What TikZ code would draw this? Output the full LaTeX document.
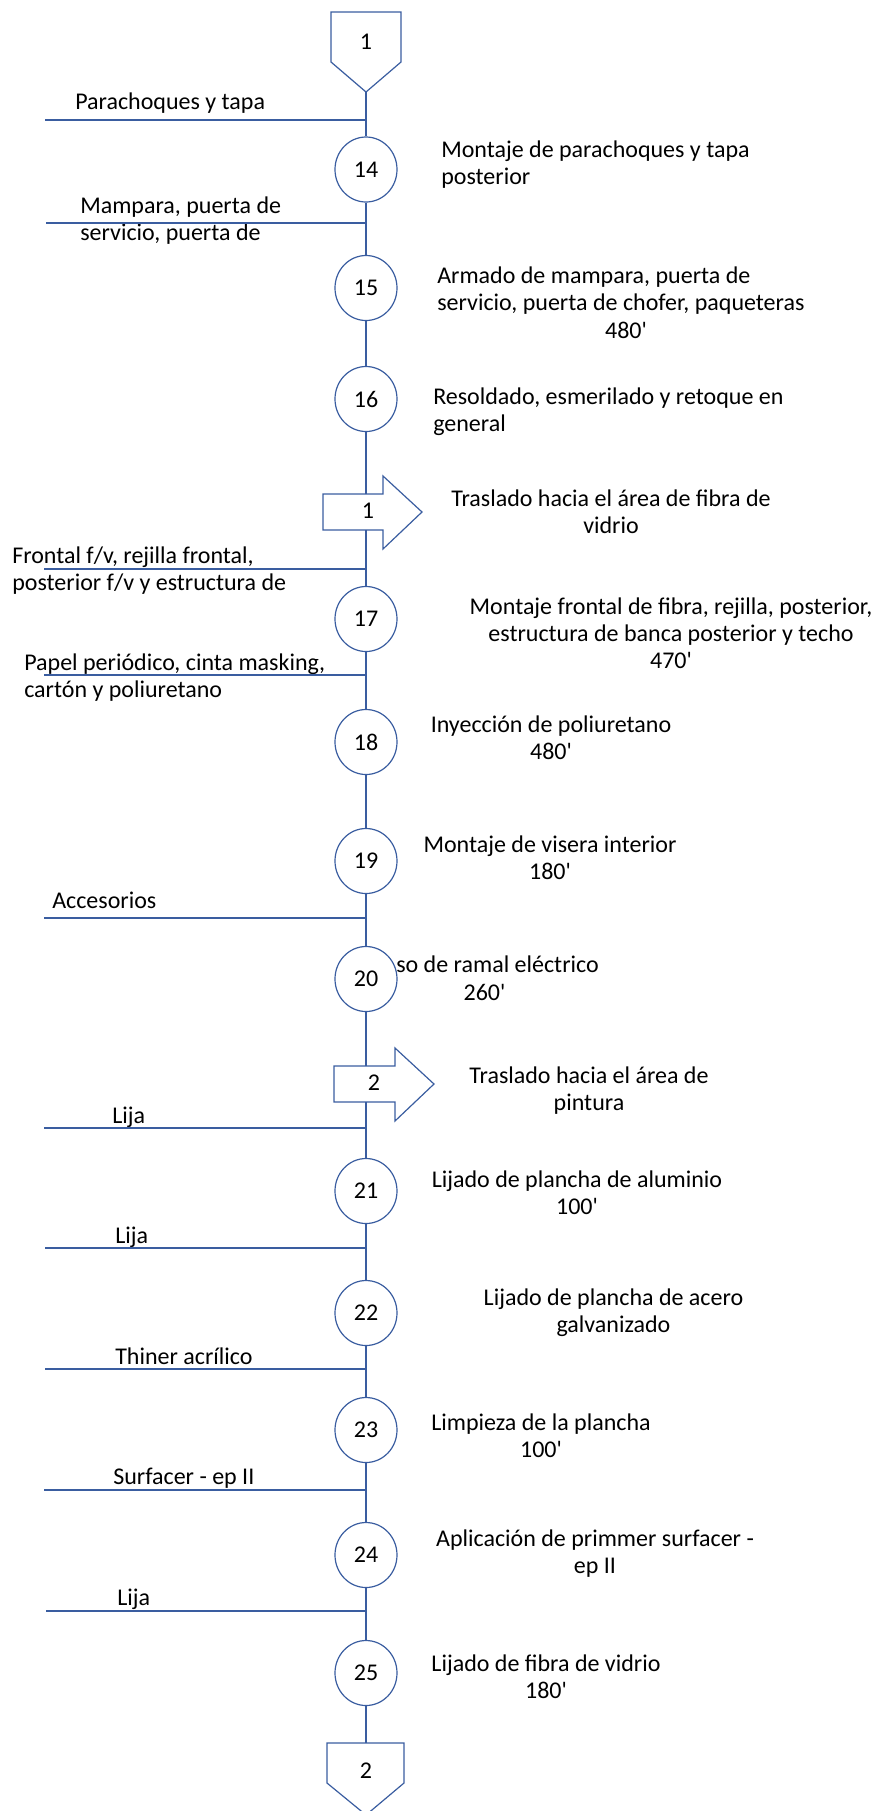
\documentclass[tikz,border=0pt]{standalone}
\usepackage{fontspec}
\setmainfont{Carlito}[Ligatures=TeXOff]
\usepackage{tikz}
\usetikzlibrary{shapes.geometric}
\definecolor{flowblue}{HTML}{3A5DA0}

\begin{document}
\begin{tikzpicture}[
  x=0.75pt, y=-0.75pt,
  font=\fontsize{18}{20.25}\selectfont,
  every node/.style={inner sep=0pt},
  oper/.style={draw=flowblue,line width=0.9pt,fill=white,ellipse,minimum width=46.5pt,minimum height=48.75pt},
  link/.style={draw=flowblue,line width=0.9pt},
  symb/.style={draw=flowblue,line width=0.9pt,fill=white,line join=miter},
  desc/.style={align=center},
  descl/.style={align=left,anchor=west},
  mat/.style={anchor=base west},
  matl/.style={align=left,anchor=west}
]
\useasboundingbox (0,0) rectangle (877,1811);
\draw[symb] (331,12) -- (401,12) -- (401,62) -- (366,92) -- (331,62) -- cycle;
\node (k1) at (366,42) {1};
\coordinate (k1tip) at (366,92);
\draw[symb] (327,1743) -- (404,1743) -- (404,1783) -- (366,1815) -- (327,1783) -- cycle;
\node (k2) at (366,1771) {2};
\coordinate (k2top) at (366,1743);
\draw[symb] (323,494) -- (383,494) -- (383,476) -- (422,512) -- (383,549) -- (383,530) -- (323,530) -- cycle;
\node (tr1) at (368,511) {1};
\coordinate (tr1n) at (366,494);
\coordinate (tr1s) at (366,530);
\draw[symb] (334,1066) -- (395,1066) -- (395,1048) -- (434,1084) -- (395,1121) -- (395,1102) -- (334,1102) -- cycle;
\node (tr2) at (374,1083) {2};
\coordinate (tr2n) at (366,1066);
\coordinate (tr2s) at (366,1102);
\node[oper] (c14) at (366,169.5) {14};
\node[oper] (c15) at (366,288) {15};
\node[oper] (c16) at (366,399) {16};
\node[oper] (c17) at (366,619) {17};
\node[oper] (c18) at (366,742) {18};
\node[oper] (c19) at (366,861) {19};
\node[oper] (c20) at (366,979) {20};
\node[oper] (c21) at (366,1191) {21};
\node[oper] (c22) at (366,1313) {22};
\node[oper] (c23) at (366,1430) {23};
\node[oper] (c24) at (366,1555) {24};
\node[oper] (c25) at (366,1673) {25};
\draw[link] (k1tip) -- (c14);
\draw[link] (c14) -- (c15);
\draw[link] (c15) -- (c16);
\draw[link] (c16) -- (tr1n);
\draw[link] (tr1s) -- (c17);
\draw[link] (c17) -- (c18);
\draw[link] (c18) -- (c19);
\draw[link] (c19) -- (c20);
\draw[link] (c20) -- (tr2n);
\draw[link] (tr2s) -- (c21);
\draw[link] (c21) -- (c22);
\draw[link] (c22) -- (c23);
\draw[link] (c23) -- (c24);
\draw[link] (c24) -- (c25);
\draw[link] (c25) -- (k2top);
\node[descl] (d14) at (441,165) {Montaje de parachoques y tapa\\posterior};
\node[descl] (d15) at (437,291) {Armado de mampara, puerta de\\servicio, puerta de chofer, paqueteras};
\node (t15) at (626,330) {480'};
\node[descl] (d16) at (433,412) {Resoldado, esmerilado y retoque en\\general};
\node[desc] (dtr1) at (611,512) {Traslado hacia el área de fibra de\\vidrio};
\node[desc] (d17) at (671,633) {Montaje frontal de fibra, rejilla, posterior,\\estructura de banca posterior y techo\\470'};
\node[desc] (d18) at (551,738) {Inyección de poliuretano\\480'};
\node[desc] (d19) at (550,858) {Montaje de visera interior\\180'};
\node[anchor=base west] (d20) at (396,972) {so de ramal eléctrico};
\node[anchor=base] (t20) at (484.5,1000) {260'};
\node[desc] (dtr2) at (589,1091) {Traslado hacia el área de\\pintura};
\node[desc] (d21) at (577,1193) {Lijado de plancha de aluminio\\100'};
\node[desc] (d22) at (613.5,1313) {Lijado de plancha de acero\\galvanizado};
\node[desc] (d23) at (541,1436) {Limpieza de la plancha\\100'};
\node[desc] (d24) at (595,1554) {Aplicación de primmer surfacer -\\ep II};
\node[desc] (d25) at (546,1677) {Lijado de fibra de vidrio\\180'};
\node[mat] (p14) at (75,109) {Parachoques y tapa};
\coordinate (m14) at (45,120);
\draw[link] (m14) -- (m14 -| c14);
\node[matl] (p15) at (80,221) {Mampara, puerta de\\servicio, puerta de};
\coordinate (m15) at (46,223);
\draw[link] (m15) -- (m15 -| c14);
\node[matl] (p17) at (12,571) {Frontal f/v, rejilla frontal,\\posterior f/v y estructura de};
\coordinate (m17) at (44,569);
\draw[link] (m17) -- (m17 -| c17);
\node[matl] (p18) at (24,678) {Papel periódico, cinta masking,\\cartón y poliuretano};
\coordinate (m18) at (44,675);
\draw[link] (m18) -- (m18 -| c18);
\node[mat] (p20) at (52,908) {Accesorios};
\coordinate (m20) at (44,918);
\draw[link] (m20) -- (m20 -| c20);
\node[mat] (p21) at (112,1123) {Lija};
\coordinate (m21) at (44,1128);
\draw[link] (m21) -- (m21 -| c21);
\node[mat] (p22) at (115,1243) {Lija};
\coordinate (m22) at (45,1248);
\draw[link] (m22) -- (m22 -| c22);
\node[mat] (p23) at (115,1364) {Thiner acrílico};
\coordinate (m23) at (45,1369);
\draw[link] (m23) -- (m23 -| c23);
\node[mat] (p24) at (113,1484) {Surfacer - ep II};
\coordinate (m24) at (44,1490);
\draw[link] (m24) -- (m24 -| c24);
\node[mat] (p25) at (117,1605) {Lija};
\coordinate (m25) at (46,1611);
\draw[link] (m25) -- (m25 -| c25);
\end{tikzpicture}
\end{document}
